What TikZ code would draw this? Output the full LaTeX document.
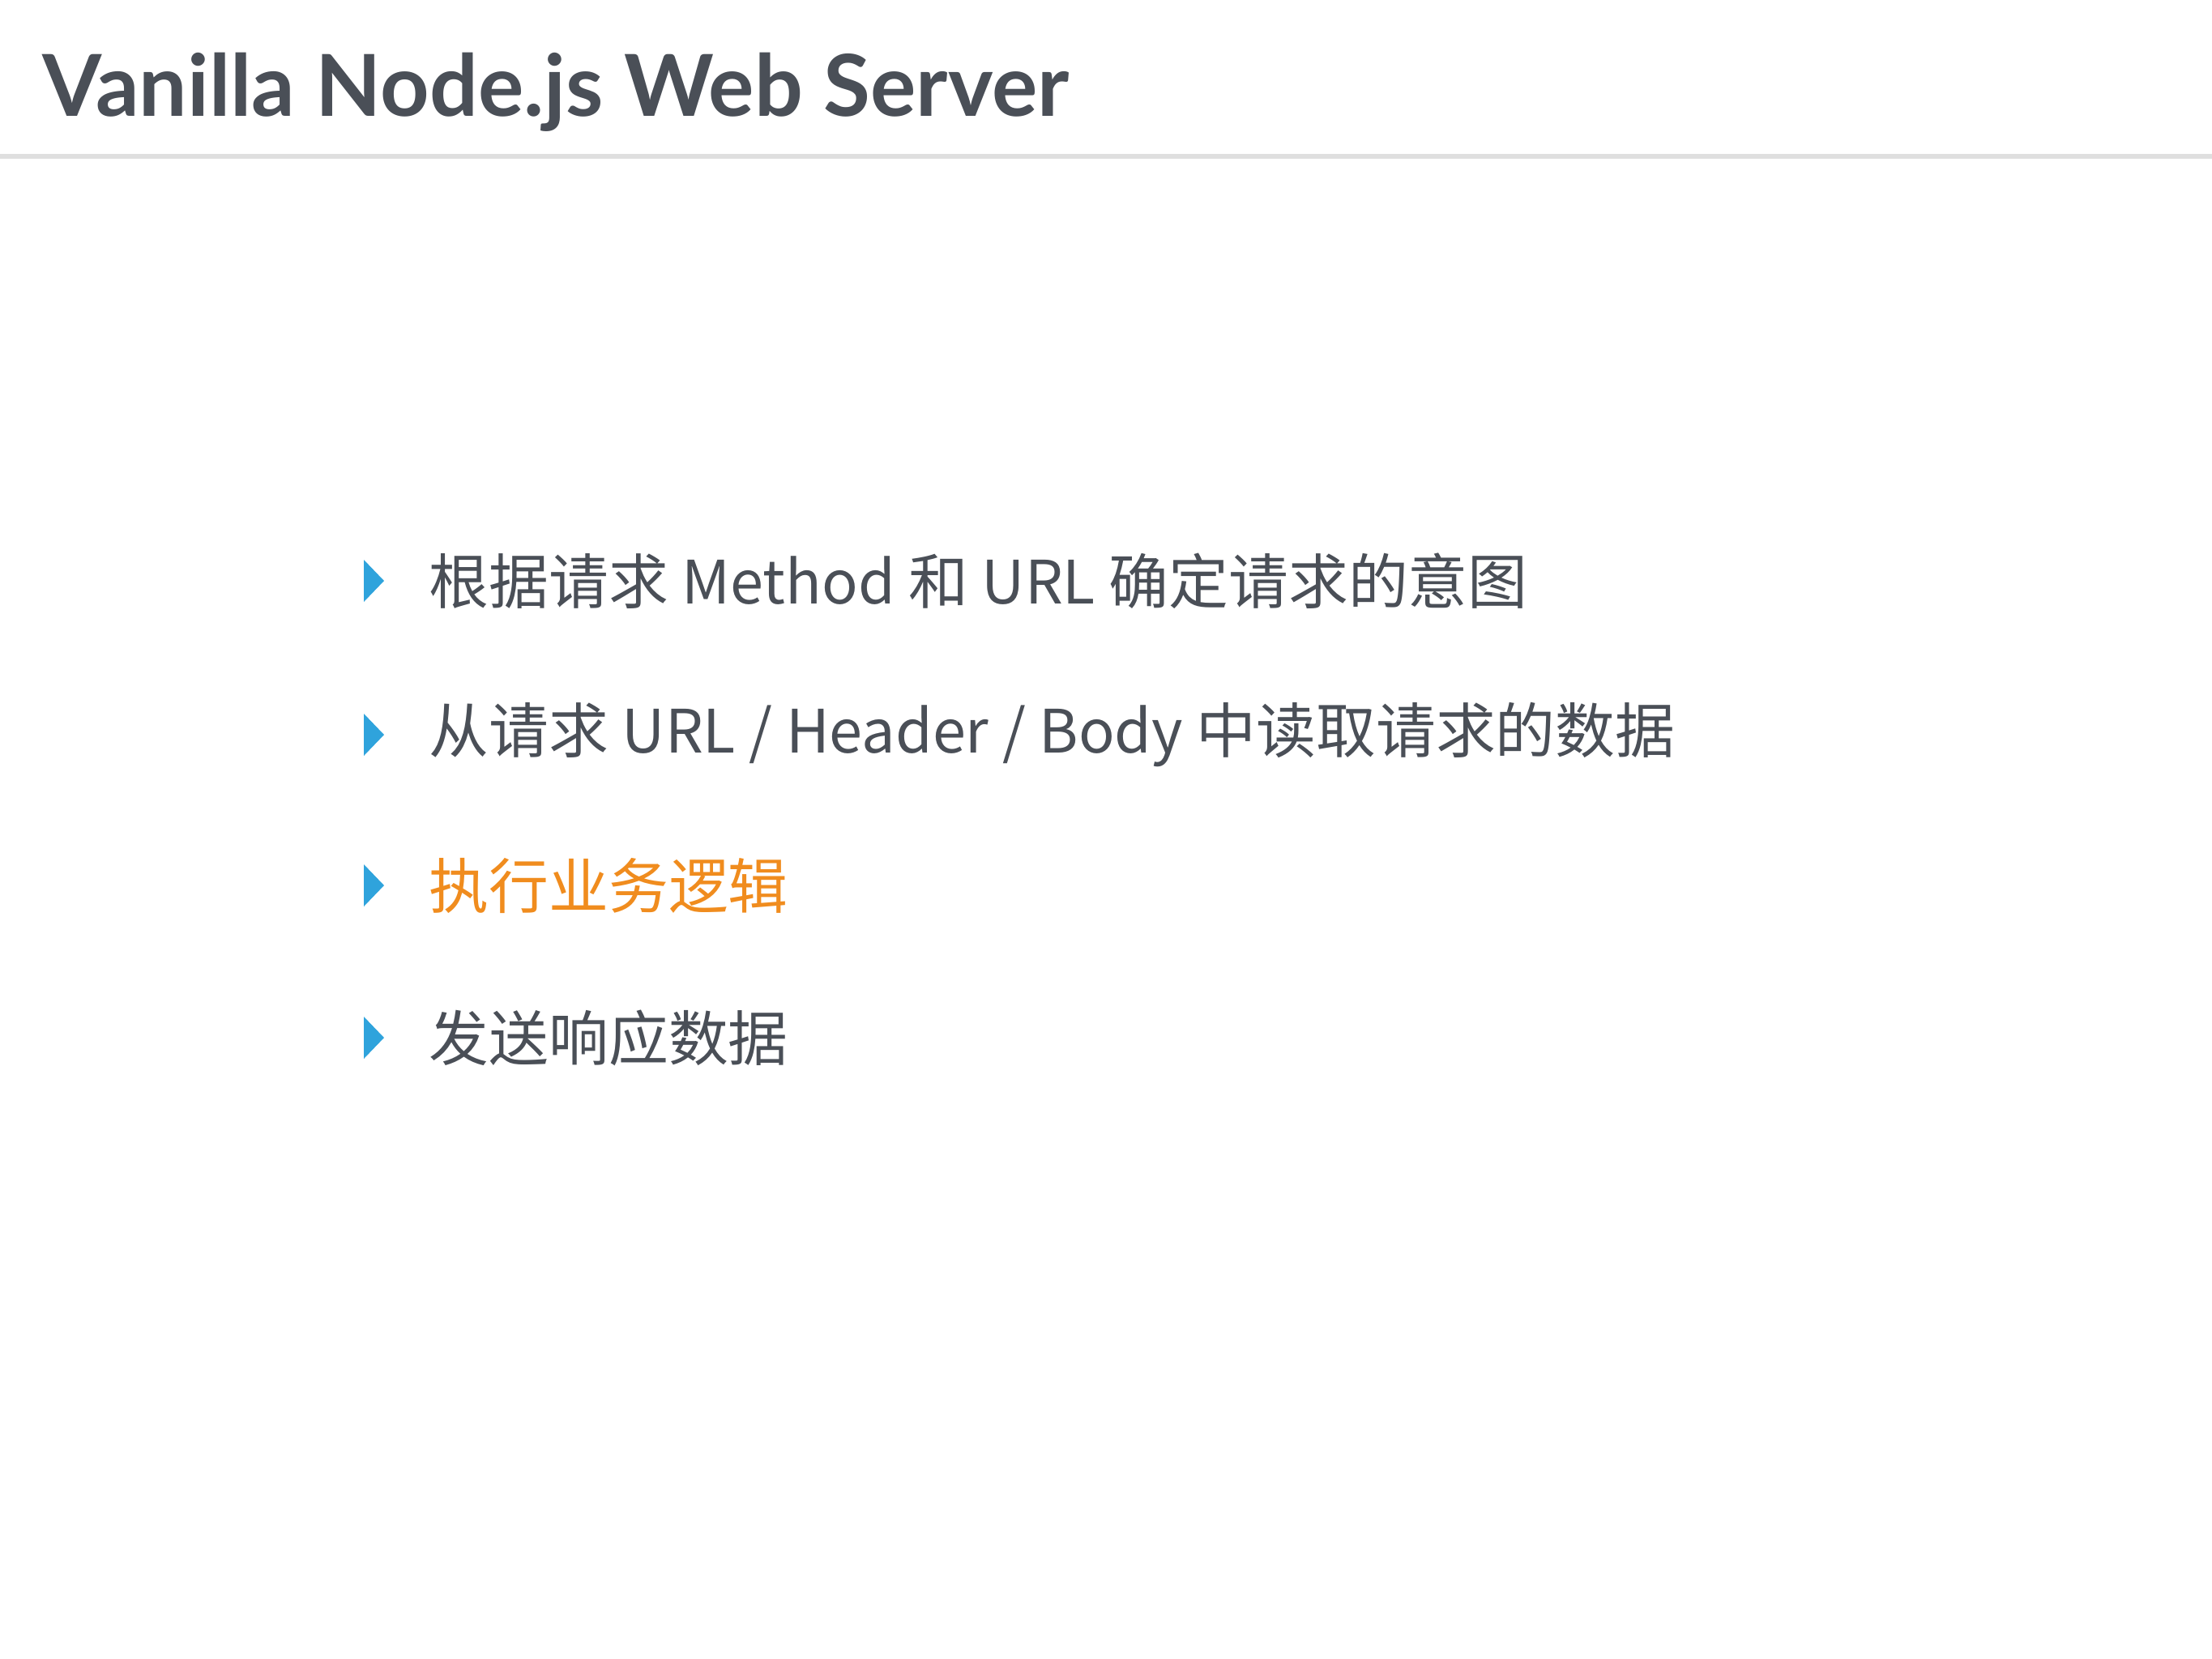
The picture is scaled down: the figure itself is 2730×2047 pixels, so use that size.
\documentclass[tikz,border=0pt]{standalone}
\usepackage{fontspec}
\setmainfont{Lato}
\newfontfamily\cjk{Noto Sans CJK SC}
\definecolor{txt}{HTML}{4A4F57}
\definecolor{blu}{HTML}{2FA3DC}
\definecolor{org}{HTML}{F08C1E}
\begin{document}
\begin{tikzpicture}[x=0.01cm,y=-0.01cm,
  bul/.style={fill=blu},
  item/.style={anchor=west,inner sep=0pt,font=\cjk\fontsize{21}{25}\selectfont,text=txt}]
\useasboundingbox (0,0) rectangle (2730,2047);
\node[anchor=base west,inner sep=0pt,text=txt,font=\bfseries\fontsize{30}{36}\selectfont] (title) at (52,143) {Vanilla Node.js Web Server};
\draw[gray!25,line width=1.5pt] (0,193) coordinate (l1) -- (2730,193) coordinate (l2);
\foreach \y/\n in {717/a,907/b,1093/c,1281/d}{
  \fill[bul] (449,\y-26) -- (474,\y) -- (449,\y+26) -- cycle;
}
\node[item] (ta) at (529,717) {根据请求 Method 和 URL 确定请求的意图};
\node[item] (tb) at (529,907) {从请求 URL / Header / Body 中读取请求的数据};
\node[item,text=org] (tc) at (529,1093) {执行业务逻辑};
\node[item] (td) at (529,1281) {发送响应数据};
\end{tikzpicture}
\end{document}
